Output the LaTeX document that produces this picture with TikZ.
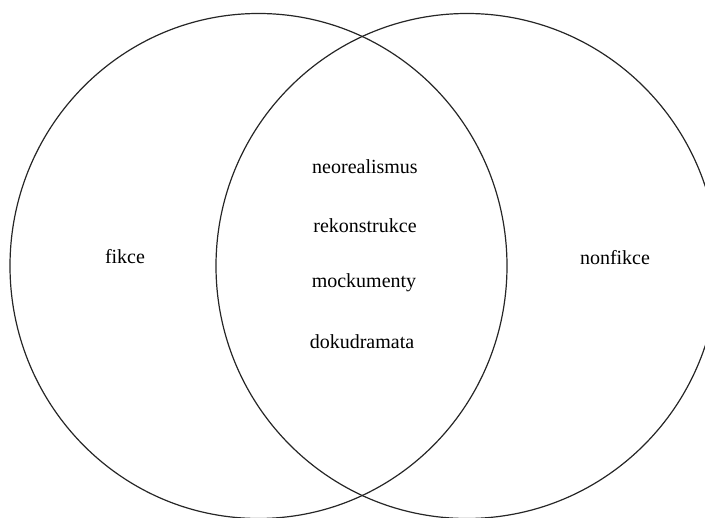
\documentclass[tikz,border=0pt]{standalone}
\usepackage{fontspec}
\setmainfont{Liberation Serif}
\begin{document}
\begin{tikzpicture}[x=1pt,y=-1pt,
  setring/.style={draw=black!85,line width=1.2pt},
  lbl/.style={font=\fontsize{20}{24}\selectfont,inner sep=0pt,anchor=center}]
\useasboundingbox (0,0) rectangle (705,518);
\clip (0,0) rectangle (705,518);
\draw[setring] (258.5,266) ellipse [x radius=248.5, y radius=252.5];
\draw[setring] (467,266) ellipse [x radius=251, y radius=252.5];
\node[lbl] (fikce) at (125,257) {fikce};
\node[lbl] (nonfikce) at (615,258) {nonfikce};
\node[lbl] (neo) at (365,167) {neorealismus};
\node[lbl] (rek) at (365,226) {rekonstrukce};
\node[lbl] (moc) at (364,283) {mockumenty};
\node[lbl] (dok) at (362,342) {dokudramata};
\end{tikzpicture}
\end{document}
